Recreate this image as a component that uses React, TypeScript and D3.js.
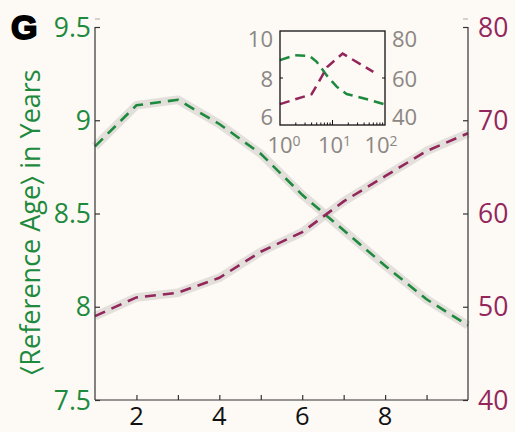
import React, { useRef, useEffect } from 'react'
import * as d3 from 'd3'

// main panel data (x = 1..10)
const xs = [1, 2, 3, 4, 5, 6, 7, 8, 9, 10]
const refAge = [8.86, 9.08, 9.11, 8.98, 8.82, 8.6, 8.41, 8.22, 8.04, 7.9]
const otherSeries = [49.0, 51.0, 51.5, 53.1, 55.9, 58.0, 61.3, 64.0, 66.7, 68.6]

const leftTicks = [7.5, 8, 8.5, 9, 9.5]
const rightTicks = [40, 50, 60, 70, 80]
const bottomTicks = [2, 4, 6, 8]

// inset data (log x)
const insetGreenX = [1, 1.93, 3.7, 5, 7.7, 12, 18.6, 52, 95]
const insetGreenY = [8.76, 8.97, 8.93, 8.69, 8.12, 7.63, 7.32, 7.06, 6.89]
const insetPurpleX = [1, 4.0, 6.2, 7.9, 15.6, 60]
const insetPurpleY = [48.9, 53.1, 60.5, 64.7, 70.4, 62.6]
const insetLeftTicks = [6, 8, 10]
const insetRightTicks = [40, 60, 80]
const insetBottomLabels = ['0', '1', '2']

const GREEN = '#1d8a3e'
const PURPLE = '#93265b'
const GREY = '#8a8784'
const FONT = "'Open Sans', sans-serif"

const App = () => {
  const ref = useRef<SVGSVGElement>(null)

  useEffect(() => {
    const svg = d3.select(ref.current)
    svg.selectAll('*').remove()

    const x = d3.scaleLinear().domain([1, 10]).range([95, 468])
    const yL = d3.scaleLinear().domain([7.5, 9.5]).range([400, 27])
    const yR = d3.scaleLinear().domain([40, 80]).range([400, 27])

    svg.append('rect').attr('width', 515).attr('height', 432).attr('fill', '#fdf9f5')

    const lineL = d3.line<number>().x((d, i) => x(xs[i])).y(d => yL(d))
    const lineR = d3.line<number>().x((d, i) => x(xs[i])).y(d => yR(d))

    // grey error bands
    const band = (d: string | null) =>
      svg.append('path').attr('d', d).attr('fill', 'none')
        .attr('stroke', '#d9d7d3').attr('stroke-width', 8.5).attr('opacity', 0.75)
        .attr('stroke-linejoin', 'round')
    band(lineL(refAge))
    band(lineR(otherSeries))

    svg.append('path').attr('d', lineL(refAge)).attr('fill', 'none')
      .attr('stroke', GREEN).attr('stroke-width', 2.6).attr('stroke-dasharray', '11,7')
    svg.append('path').attr('d', lineR(otherSeries)).attr('fill', 'none')
      .attr('stroke', PURPLE).attr('stroke-width', 2.6).attr('stroke-dasharray', '11,7')

    // axes
    const axisCol = '#333'
    const gL = svg.append('g').attr('transform', 'translate(95,0)')
      .call(d3.axisRight(yL).tickValues(leftTicks).tickSize(5))
    gL.selectAll('text').remove()
    gL.select('.domain').attr('d', 'M0,27V400')
    gL.selectAll('line, path').attr('stroke', axisCol).attr('stroke-width', 1.2)

    const gR = svg.append('g').attr('transform', 'translate(468,0)')
      .call(d3.axisLeft(yR).tickValues(rightTicks).tickSize(5))
    gR.selectAll('text').remove()
    gR.select('.domain').attr('d', 'M0,27V400')
    gR.selectAll('line, path').attr('stroke', axisCol).attr('stroke-width', 1.2)

    const gB = svg.append('g').attr('transform', 'translate(0,400)')
      .call(d3.axisTop(x).tickValues(d3.range(2, 10)).tickSize(5))
    gB.selectAll('text').remove()
    gB.select('.domain').attr('d', 'M95,0H468')
    gB.selectAll('line, path').attr('stroke', axisCol).attr('stroke-width', 1.2)

    // small marks above axis tops
    svg.append('line').attr('x1', 95).attr('x2', 100).attr('y1', 19).attr('y2', 19).attr('stroke', '#aaa')
    svg.append('line').attr('x1', 463).attr('x2', 468).attr('y1', 19).attr('y2', 19).attr('stroke', '#aaa')

    // tick labels
    svg.append('g').selectAll('text').data(leftTicks).join('text')
      .attr('x', 91).attr('y', d => yL(d)).attr('dy', '0.36em')
      .attr('text-anchor', 'end').attr('fill', GREEN)
      .attr('font-family', FONT).attr('font-size', 26.5)
      .text(d => String(d))
    svg.append('g').selectAll('text').data(rightTicks).join('text')
      .attr('x', 478).attr('y', d => yR(d)).attr('dy', '0.36em')
      .attr('fill', PURPLE)
      .attr('font-family', FONT).attr('font-size', 26.5)
      .text(d => String(d))
    svg.append('g').selectAll('text').data(bottomTicks).join('text')
      .attr('x', d => x(d)).attr('y', 425)
      .attr('text-anchor', 'middle').attr('fill', '#111')
      .attr('font-family', FONT).attr('font-size', 25.5)
      .text(d => String(d))

    svg.append('text')
      .attr('transform', 'translate(40,222) rotate(-90)')
      .attr('text-anchor', 'middle').attr('fill', GREEN)
      .attr('font-family', FONT).attr('font-size', 27)
      .text('\u2329Reference Age\u232A in Years')

    svg.append('text').attr('x', 11).attr('y', 39)
      .attr('font-family', "'Liberation Sans', Arial, sans-serif").attr('font-weight', 900)
      .attr('font-size', 34).attr('fill', '#000').attr('stroke', '#000').attr('stroke-width', 1.8)
      .text('G')

    // inset
    const ix = d3.scaleLog().domain([1, 100]).range([280, 385])
    const iyL = d3.scaleLinear().domain([6, 10]).range([125, 31])
    const iyR = d3.scaleLinear().domain([40, 80]).range([125, 31])

    const inset = svg.append('g')
    inset.append('path')
      .attr('d', d3.line<number>().x((d, i) => ix(insetGreenX[i])).y(d => iyL(d))(insetGreenY))
      .attr('fill', 'none').attr('stroke', GREEN).attr('stroke-width', 2.5).attr('stroke-dasharray', '10,6')
    inset.append('path')
      .attr('d', d3.line<number>().x((d, i) => ix(insetPurpleX[i])).y(d => iyR(d))(insetPurpleY))
      .attr('fill', 'none').attr('stroke', PURPLE).attr('stroke-width', 2.5).attr('stroke-dasharray', '10,6')

    inset.append('rect').attr('x', 280).attr('y', 31).attr('width', 105).attr('height', 94)
      .attr('fill', 'none').attr('stroke', '#111').attr('stroke-width', 1.3)

    // inset ticks
    inset.append('g').selectAll('line').data(insetLeftTicks.slice(1, 2)).join('line')
      .attr('x1', 280).attr('x2', 283).attr('y1', d => iyL(d)).attr('y2', d => iyL(d)).attr('stroke', '#111')
    inset.append('g').selectAll('line').data(insetRightTicks.slice(1, 2)).join('line')
      .attr('x1', 382).attr('x2', 385).attr('y1', d => iyR(d)).attr('y2', d => iyR(d)).attr('stroke', '#111')
    const minor: number[] = []
    ;[1, 10].forEach(p => d3.range(2, 10).forEach(k => minor.push(p * k)))
    inset.append('g').selectAll('line').data(minor.concat([10])).join('line')
      .attr('x1', d => ix(d)).attr('x2', d => ix(d))
      .attr('y1', 125).attr('y2', d => (d === 10 ? 120 : 122.5)).attr('stroke', '#111')

    // labels kept inside the box height (top one hangs down, bottom one sits up)
    const labelY = (i: number) => [117, 79, 39][i]
    inset.append('g').selectAll('text').data(insetLeftTicks).join('text')
      .attr('x', 273).attr('y', (d, i) => labelY(i)).attr('dy', '0.36em').attr('text-anchor', 'end')
      .attr('fill', GREY).attr('font-family', FONT).attr('font-size', 22)
      .text(d => String(d))
    inset.append('g').selectAll('text').data(insetRightTicks).join('text')
      .attr('x', 392).attr('y', (d, i) => labelY(i)).attr('dy', '0.36em')
      .attr('fill', GREY).attr('font-family', FONT).attr('font-size', 22)
      .text(d => String(d))
    const bl = inset.append('g').selectAll('text').data(insetBottomLabels).join('text')
      .attr('x', (d, i) => ix(Math.pow(10, i)) + [4, 2, -4][i]).attr('y', 153).attr('text-anchor', 'middle')
      .attr('fill', GREY).attr('font-family', FONT).attr('font-size', 22)
    bl.append('tspan').text('10')
    bl.append('tspan').attr('dy', -7).attr('font-size', 14).text(d => d)
  }, [])

  return (
    <svg ref={ref} width={515} height={432}
      style={{ position: 'absolute', left: 0, top: 0, display: 'block' }} />
  )
}

export default App
